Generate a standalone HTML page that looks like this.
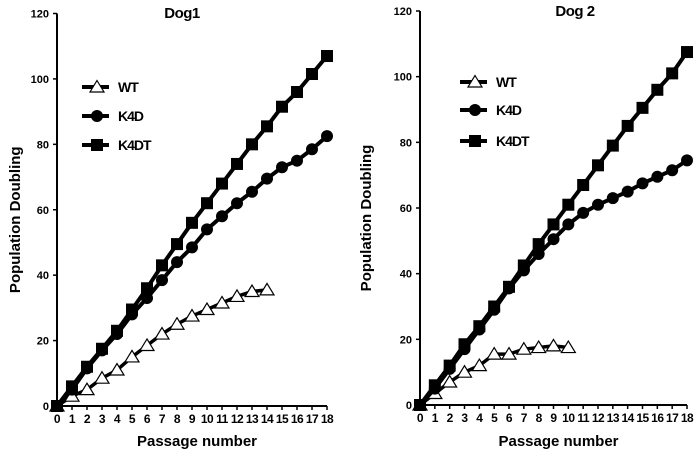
<!DOCTYPE html>
<html><head><meta charset="utf-8"><style>
body{margin:0;background:#fff;}
svg{display:block;font-family:"Liberation Sans",Arial,sans-serif;font-weight:bold;}
</style></head><body>
<svg id="c" width="696" height="451" viewBox="0 0 696 451"></svg>
<script>
const passages=[0,1,2,3,4,5,6,7,8,9,10,11,12,13,14,15,16,17,18];
const yTicks=[0,20,40,60,80,100,120];
const dog1K4DT=[0,6,12,17.5,23,29.5,36,43,49.5,56,62,68,74,80,85.5,91.5,96,101.5,107];
const dog1K4D=[0,5,11.5,17,22,28,33,38.5,44,48.5,54,58,62,65.5,69.5,73,75,78.5,82.5];
const dog1WT=[0,3,5,8.5,11,15,18.5,22,25,27.5,29.5,31.5,33.5,35,35.5];
const dog2K4DT=[0,6,12,18.5,24,30,36,42.5,49,55,61,67,73,79,85,90.5,96,101,107.5];
const dog2K4D=[0,5,11,17,23,29,35.5,41,46,50.5,55,58.5,61,63,65,67.5,69.5,71.5,74.5];
const dog2WT=[0,3.5,7,10,12,15.5,15.5,17,17.5,18,17.5];
const legendLabels=["WT","K4D","K4DT"];
const NS="http://www.w3.org/2000/svg";
const svg=document.getElementById('c');
function el(tag,attrs,parent){const e=document.createElementNS(NS,tag);for(const k in attrs)e.setAttribute(k,attrs[k]);(parent||svg).appendChild(e);return e;}
function marker(g,type,x,y){
  let m;
  if(type==='sq'){m=el('rect',{x:x-6,y:y-6,width:12,height:12,fill:'#000'},g);}
  else if(type==='ci'){m=el('circle',{cx:x,cy:y,r:6,fill:'#000'},g);}
  else {m=el('polygon',{points:`${x},${y-6.5} ${x+7},${y+5} ${x-7},${y+5}`,fill:'#fff',stroke:'#000','stroke-width':1.2},g);}
  return m;
}
function panel(cfg){
  const g=el('g',{});
  
  
  const xS=v=>cfg.x0+(cfg.x1-cfg.x0)*v/18;
  const yS=v=>cfg.y0+(cfg.y1-cfg.y0)*v/120;
  const ax=el('path',{d:`M${cfg.x0} ${yS(120)} V${cfg.y0} H${cfg.x1}`,stroke:'#000','stroke-width':2,fill:'none'},g);
  
  yTicks.forEach(t=>{
    el('line',{x1:cfg.x0-4,x2:cfg.x0,y1:yS(t),y2:yS(t),stroke:'#000','stroke-width':1.5},g);
    const tx=el('text',{x:cfg.x0-8,y:yS(t)+4,'text-anchor':'end','font-size':11},g);tx.textContent=t;
    
  });
  passages.forEach(p=>{
    el('line',{x1:xS(p),x2:xS(p),y1:cfg.y0,y2:cfg.y0+4,stroke:'#000','stroke-width':1.5},g);
    const tx=el('text',{x:xS(p),y:cfg.y0+17,'text-anchor':'middle','font-size':12,'letter-spacing':'-0.5'},g);tx.textContent=p;
    
  });
  const series=[[cfg.wt,'tr','wt'],[cfg.k4d,'ci','k4d'],[cfg.k4dt,'sq','k4dt']];
  series.forEach(([d,t,n])=>{
    const sg=el('g',{},g);
    
    el('polyline',{points:d.map((v,i)=>xS(i)+','+yS(v)).join(' '),fill:'none',stroke:'#000','stroke-width':t==='tr'?3.5:4},sg);
    d.forEach((v,i)=>{const m=marker(sg,t,xS(i),yS(v));});
  });
  const types=['tr','ci','sq'];
  legendLabels.forEach((l,i)=>{
    const lg=el('g',{},g);
    
    const y=cfg.ly[i];
    el('line',{x1:cfg.lx-15,x2:cfg.lx+12,y1:y,y2:y,stroke:'#000','stroke-width':4},lg);
    marker(lg,types[i],cfg.lx,y);
    const tx=el('text',{x:cfg.lx+21,y:y+5,'font-size':14,'letter-spacing':'-1'},lg);tx.textContent=l;
  });
  const ti=el('text',{x:cfg.tx,y:cfg.ty,'text-anchor':'middle','font-size':15,'letter-spacing':'-0.5'},g);ti.textContent=cfg.title;
  
  const xl=el('text',{x:(cfg.x0+cfg.x1)/2+5,y:446,'text-anchor':'middle','font-size':15},g);xl.textContent='Passage number';
  
  const yl=el('text',{x:0,y:0,'text-anchor':'middle','font-size':15,transform:`translate(${cfg.ylx},${(cfg.y0+yS(120))/2+10}) rotate(-90)`},g);yl.textContent='Population Doubling';
  
}
panel({name:'dog1-chart',x0:57,x1:327,y0:406,y1:13.5,wt:dog1WT,k4d:dog1K4D,k4dt:dog1K4DT,lx:97,ly:[87,116,145],tx:182,ty:18,title:'Dog1',ylx:20});
panel({name:'dog2-chart',x0:420,x1:687,y0:405,y1:11,wt:dog2WT,k4d:dog2K4D,k4dt:dog2K4DT,lx:475,ly:[82,110,141],tx:575,ty:16,title:'Dog 2',ylx:371});
</script>
</body></html>
